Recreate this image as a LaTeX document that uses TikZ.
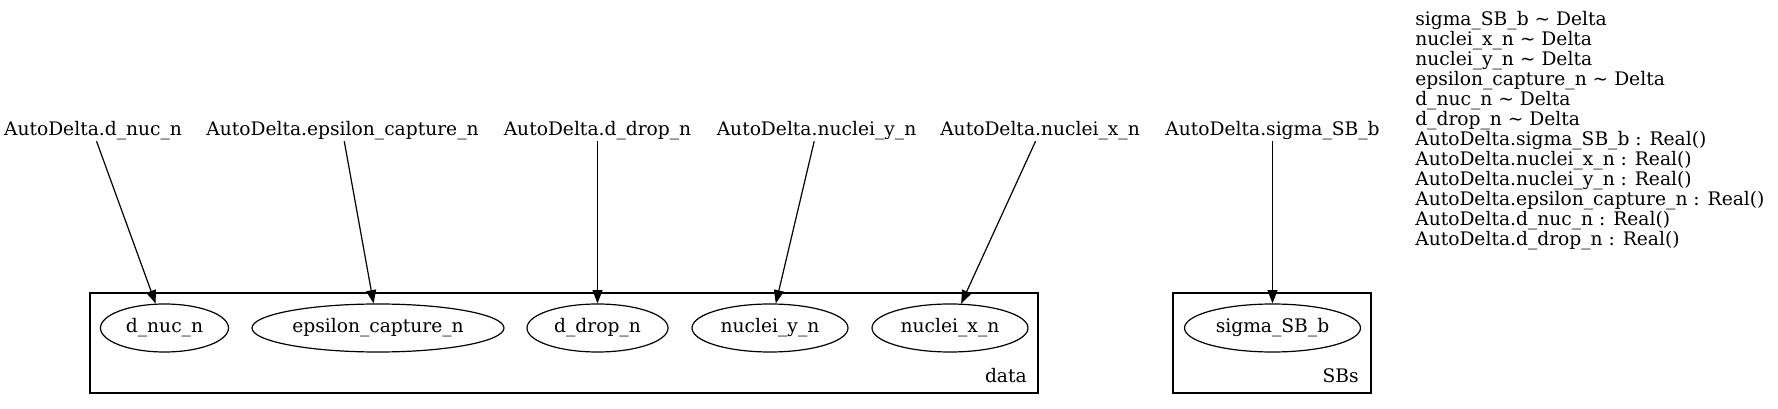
\documentclass[tikz,border=0pt]{standalone}
\usepackage{fontspec}
\setmainfont{DejaVu Serif}
\usepackage{tikz}
\usetikzlibrary{shapes,arrows.meta,positioning}
\tikzstyle{var} = [ellipse, draw, line width=0.9pt, inner sep=0pt, minimum height=36pt, font=\fontsize{14}{15}\selectfont]

\begin{document}
\begin{tikzpicture}[x=0.75pt,y=-0.75pt]
    \tikzstyle{param} = [inner sep=0pt, text height=10.5pt, text depth=3.75pt, font=\fontsize{14}{15}\selectfont]
    \tikzstyle{edge} = [-{Triangle[length=10pt,width=7.5pt]}, line width=0.9pt]
    \tikzstyle{plate} = [draw, line width=0.9pt]
    \useasboundingbox (0,0) rectangle (1778,409);
    % plates
    \draw[plate] (90,293) rectangle (1038,393);
    \draw[plate] (1173,293) rectangle (1371,393);
    \node[param, anchor=base east] (datalbl) at (1027,383) {data};
    \node[param, anchor=base east] (sbslbl) at (1359,383) {SBs};
    % priors
    \node[param, anchor=base] (pdnuc) at (93,136) {AutoDelta.d\_nuc\_n};
    \node[param, anchor=base] (peps) at (342.5,136) {AutoDelta.epsilon\_capture\_n};
    \node[param, anchor=base] (pddrop) at (597.5,136) {AutoDelta.d\_drop\_n};
    \node[param, anchor=base] (pny) at (816.5,136) {AutoDelta.nuclei\_y\_n};
    \node[param, anchor=base] (pnx) at (1040,136) {AutoDelta.nuclei\_x\_n};
    \node[param, anchor=base] (psigma) at (1272.5,136) {AutoDelta.sigma\_SB\_b};
    % sample sites
    \node[var, minimum width=96pt] (dnuc) at (164.5,328) {d\_nuc\_n};
    \node[var, minimum width=189pt] (eps) at (378,328) {epsilon\_capture\_n};
    \node[var, minimum width=105.75pt] (ddrop) at (597.5,328) {d\_drop\_n};
    \node[var, minimum width=117pt] (ny) at (770,328) {nuclei\_y\_n};
    \node[var, minimum width=117pt] (nx) at (950,328) {nuclei\_x\_n};
    \node[var, minimum width=132pt] (sigma) at (1272.5,328) {sigma\_SB\_b};
    \draw[edge] (pdnuc) -- (dnuc);
    \draw[edge] (peps) -- (eps);
    \draw[edge] (pddrop) -- (ddrop);
    \draw[edge] (pny) -- (ny);
    \draw[edge] (pnx) -- (nx);
    \draw[edge] (psigma) -- (sigma);
    % distributions and constraints
    \foreach \txt [count=\i from 0] in {sigma\_SB\_b \textasciitilde{} Delta, nuclei\_x\_n \textasciitilde{} Delta,
        nuclei\_y\_n \textasciitilde{} Delta, epsilon\_capture\_n \textasciitilde{} Delta,
        d\_nuc\_n \textasciitilde{} Delta, d\_drop\_n \textasciitilde{} Delta,
        AutoDelta.sigma\_SB\_b : Real(), AutoDelta.nuclei\_x\_n : Real(),
        AutoDelta.nuclei\_y\_n : Real(), AutoDelta.epsilon\_capture\_n : Real(),
        AutoDelta.d\_nuc\_n : Real(), AutoDelta.d\_drop\_n : Real()}
        \node[param, anchor=base west] (note\i) at (1415,{26+20*\i}) {\txt};
\end{tikzpicture}
\end{document}
